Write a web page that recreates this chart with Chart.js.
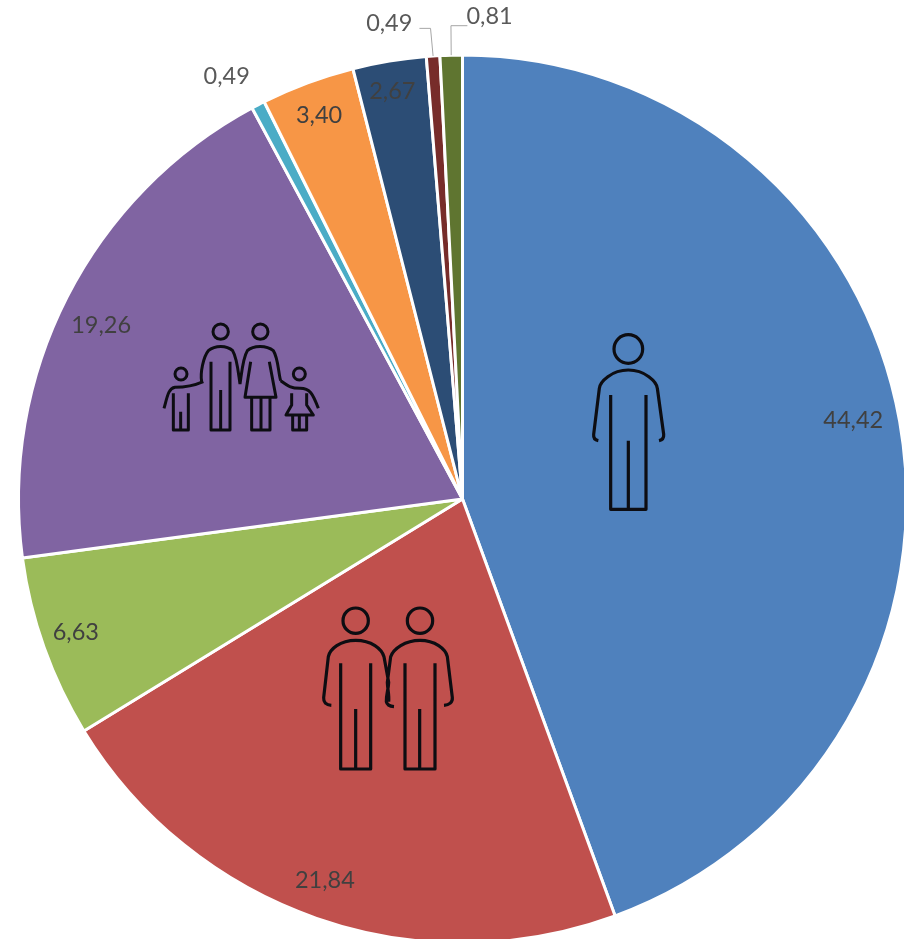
<!DOCTYPE html>
<html><head><meta charset="utf-8">
<script src="https://cdn.jsdelivr.net/npm/chart.js@4"></script>
<style>html,body{margin:0;padding:0;background:#fff;overflow:hidden}#w{width:904px;height:939px}canvas{filter:blur(0.45px)}</style>
</head><body><div id="w"><canvas id="c" width="904" height="939"></canvas></div>
<script>
const categories = ["1 person","2 persons","3 persons","4 persons","5 persons","6 persons","7 persons","8 persons","9+ persons"];
const values = [44.42,21.84,6.63,19.26,0.49,3.40,2.67,0.49,0.81];
const colors = ["#4F81BD","#C0504D","#9BBB59","#8064A2","#4BACC6","#F79646","#2C4D75","#772C2A","#5F7530"];
// label centres relative to the pie centre, in fractions of the radius
const labelDx = [0.880,-0.310,-0.871,-0.814,-0.531,-0.323,-0.158,-0.165,0.061];
const labelDy = [-0.178,0.858,0.301,-0.391,-0.952,-0.864,-0.918,-1.072,-1.086];
const labelColors = ["#404040","#404040","#404040","#404040","#595959","#404040","#404040","#595959","#595959"];

const MAN = "M55 347C44 345 40 338 41 328L58 190C60 170 95 135 145 135C195 135 230 170 232 190L251 328C252 338 246 345 237 347M92 210V553H198V210M145 347V553";
const HEAD = "M188 72A43 43 0 1 1 102 72A43 43 0 1 1 188 72Z";
const COUPLE = "M175 77A38 38 0 1 1 99 77A38 38 0 1 1 175 77Z M368 77A38 38 0 1 1 292 77A38 38 0 1 1 368 77Z"
 + "M64 331C48 330 40 322 41 308L55 185C60 162 90 136 137 136C185 136 215 162 222 185L236 262C235 285 228 300 229 320C231 330 240 334 252 335"
 + "M92 205V522H182V205M137 342V522"
 + "M402 331C418 330 428 322 427 308L412 185C407 162 375 136 330 136C285 136 250 162 242 185L232 262C233 285 238 300 236 320"
 + "M285 205V522H375V205M329 342V522";
const FAMILY = "M235 65A23 23 0 1 1 189 65A23 23 0 1 1 235 65Z M354 65A23 23 0 1 1 308 65A23 23 0 1 1 354 65Z"
 + "M155 215C150 190 160 140 175 122C195 105 230 105 248 122C262 145 265 190 270 222M183 155V360H240V155M212 240V360"
 + "M270 222C275 190 278 145 292 122C310 105 350 105 370 122C385 145 385 190 392 212M302 155L285 262H378L358 155M305 262V360H360V262M333 262V360"
 + "M111 192A18 18 0 1 1 75 192A18 18 0 1 1 111 192Z M160 215C130 228 100 232 75 232C55 235 52 260 42 295M70 250V360H115V250M92 305V360"
 + "M466 192A18 18 0 1 1 430 192A18 18 0 1 1 466 192Z M392 212C410 225 420 235 450 235C480 235 488 250 505 295M425 250V285L408 315H490L470 285V250M428 315V360H470V315M448 315V360";
function place(d,a,e,b,f){const p=new Path2D();p.addPath(new Path2D(d),new DOMMatrix([a,0,0,b,e,f]));return p;}
const iconPlugin={id:'icons',afterDatasetsDraw(chart){
  const arc=chart.getDatasetMeta(0).data[0],cx=arc.x,cy=arc.y,ctx=chart.ctx;
  ctx.save();ctx.strokeStyle="#0d0d12";ctx.lineWidth=3.2;ctx.lineCap="butt";ctx.lineJoin="round";
  const one=(d,e,f)=>ctx.stroke(place(d,1/3,cx+e,1/3,cy+f));
  one(MAN+HEAD,117.5,-174);   // single person
  one(COUPLE,-152.5,96);      // couple
  ctx.lineWidth=3;
  one(FAMILY,-312.5,-189);    // family
  ctx.restore();
}};
const labelPlugin={id:'labels',afterDatasetsDraw(chart){
  const arcs=chart.getDatasetMeta(0).data,ctx=chart.ctx;
  ctx.save();
  const a0=arcs[0],R=a0.outerRadius;
  const pt=(a)=>{const m=(a.startAngle+a.endAngle)/2;return [a.x+Math.cos(m)*R,a.y+Math.sin(m)*R];};
  ctx.strokeStyle="#a6a6a6";ctx.lineWidth=1;
  ctx.beginPath();
  let p=pt(arcs[7]);
  ctx.moveTo(a0.x-0.097*R,a0.y-1.06*R);ctx.lineTo(a0.x-0.072*R,a0.y-1.06*R);ctx.lineTo(p[0],p[1]);
  p=pt(arcs[8]);
  ctx.moveTo(a0.x+0.011*R,a0.y-1.066*R);ctx.lineTo(a0.x-0.026*R,a0.y-1.066*R);ctx.lineTo(p[0],p[1]);
  ctx.stroke();
  ctx.font='23.5px Lato';ctx.textAlign="center";ctx.textBaseline="middle";
  values.forEach((v,i)=>{ctx.fillStyle=labelColors[i];
    ctx.fillText(v.toFixed(2).replace('.',','),a0.x+labelDx[i]*R,a0.y+labelDy[i]*R);});
  ctx.restore();
}};
new Chart(document.getElementById('c'),{
  type:'pie',
  data:{labels:categories,datasets:[{data:values,backgroundColor:colors,borderColor:"#fff",borderWidth:3,radius:444}]},
  options:{responsive:false,animation:false,
    layout:{padding:{left:21,top:59,right:0,bottom:0}},
    plugins:{legend:{display:false},tooltip:{enabled:false},title:{display:false}}},
  plugins:[iconPlugin,labelPlugin]
});
</script></body></html>
